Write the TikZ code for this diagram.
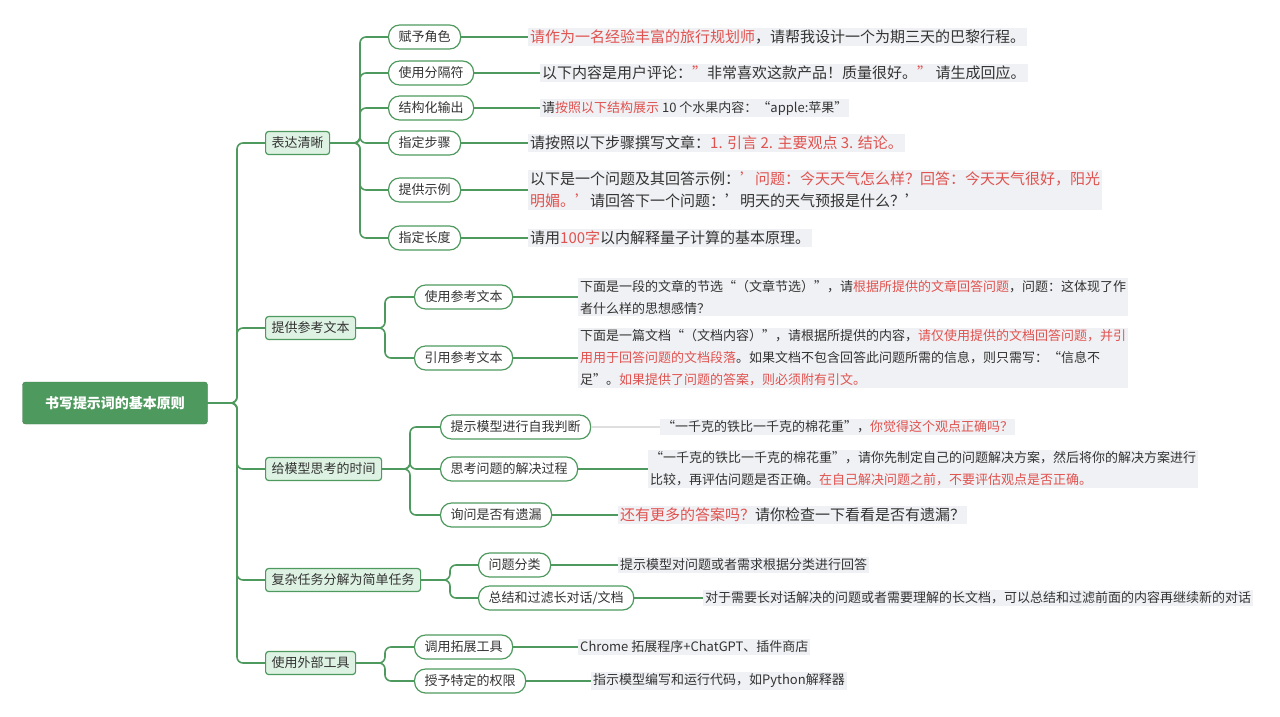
\documentclass[tikz,border=0pt]{standalone}
\usepackage{fontspec}
\setmainfont{Noto Sans CJK SC}
\usepackage{xcolor}
\definecolor{mgreen}{HTML}{4E9A5E}
\definecolor{lgreen}{HTML}{DDF2E2}
\definecolor{mred}{HTML}{E0524F}
\definecolor{tgray}{HTML}{F0F1F4}
\definecolor{ink}{HTML}{333333}
\newcommand{\hl}[1]{\textcolor{mred}{#1}}
\begin{document}
\begin{tikzpicture}[x=1pt,y=-1pt,
    link/.style={draw=mgreen,line width=1.6pt,rounded corners=6pt},
    root/.style={draw=mgreen!80!black,fill=mgreen,rounded corners=3pt,text=white,font=\fontsize{14}{16}\selectfont\bfseries,minimum width=185pt,minimum height=42pt},
    topic/.style={draw=mgreen,line width=1.2pt,fill=lgreen,rounded corners=3pt,text=ink,font=\fontsize{13}{14}\selectfont,inner xsep=6pt,minimum height=23pt,anchor=west},
    sub/.style={draw=mgreen,line width=1.2pt,fill=white,rounded corners=11pt,text=ink,font=\fontsize{13}{14}\selectfont,inner xsep=10pt,minimum height=24pt,anchor=west},
    big/.style={fill=tgray,text=ink,font=\fontsize{15}{22}\selectfont,anchor=west,inner sep=2pt,align=left},
    small/.style={fill=tgray,text=ink,font=\fontsize{13}{22}\selectfont,anchor=west,inner sep=2pt,align=left}]
\useasboundingbox (0,0) rectangle (1280,716);

\node[root] (R) at (115,403) {书写提示词的基本原则};

% first level
\node[topic] (T1) at (265,143) {表达清晰};
\node[topic] (T2) at (265,328) {提供参考文本};
\node[topic] (T3) at (265,469) {给模型思考的时间};
\node[topic] (T4) at (265,580) {复杂任务分解为简单任务};
\node[topic] (T5) at (265,663) {使用外部工具};
\foreach \t in {T1,T2,T3,T4,T5}
    \draw[link] (R.east) -- (237,403) |- (\t.west);

% 表达清晰
\node[sub] (A1) at (388,37) {赋予角色};
\node[sub] (A2) at (388,73) {使用分隔符};
\node[sub] (A3) at (388,108) {结构化输出};
\node[sub] (A4) at (388,143) {指定步骤};
\node[sub] (A5) at (388,190) {提供示例};
\node[sub] (A6) at (388,238) {指定长度};
\foreach \s in {A1,A2,A3,A4,A5,A6}
    \draw[link] (T1.east) -- (360,143) |- (\s.west);
\node[big] (a1) at (528,37) {\hl{请作为一名经验丰富的旅行规划师}，请帮我设计一个为期三天的巴黎行程。};
\node[big] (a2) at (540,73) {以下内容是用户评论：\hl{"}非常喜欢这款产品！质量很好。\hl{"} 请生成回应。};
\node[small] (a3) at (540,108) {请\hl{按照以下结构展示} 10 个水果内容：“apple:苹果”};
\node[big] (a4) at (528,143) {请按照以下步骤撰写文章：\hl{1. 引言 2. 主要观点 3. 结论。}};
\node[big] (a5) at (528,190) {以下是一个问题及其回答示例：\hl{\symbol{39}问题：今天天气怎么样？回答：今天天气很好，阳光}\\\hl{明媚。\symbol{39}}请回答下一个问题：\symbol{39}明天的天气预报是什么？\symbol{39}};
\node[big] (a6) at (528,238) {请用\hl{100字}以内解释量子计算的基本原理。};
\foreach \s/\t in {A1/a1,A2/a2,A3/a3,A4/a4,A5/a5,A6/a6}
    \draw[link] (\s.east) -- (\t.west);

% 提供参考文本
\node[sub] (B1) at (414,297) {使用参考文本};
\node[sub] (B2) at (414,358) {引用参考文本};
\foreach \s in {B1,B2}
    \draw[link] (T2.east) -- (385,328) |- (\s.west);
\node[small] (b1) at (578,297) {下面是一段的文章的节选“（文章节选）”，请\hl{根据所提供的文章回答问题}，问题：这体现了作\\者什么样的思想感情？};
\node[small] (b2) at (578,358) {下面是一篇文档“（文档内容）”，请根据所提供的内容，\hl{请仅使用提供的文档回答问题，并引}\\\hl{用用于回答问题的文档段落}。如果文档不包含回答此问题所需的信息，则只需写：“信息不\\足”。\hl{如果提供了问题的答案，则必须附有引文。}};
\foreach \s/\t in {B1/b1,B2/b2}
    \draw[link] (\s.east) -- (\t.west);

% 给模型思考的时间
\node[sub] (C1) at (440,427) {提示模型进行自我判断};
\node[sub] (C2) at (440,469) {思考问题的解决过程};
\node[sub] (C3) at (440,515) {询问是否有遗漏};
\foreach \s in {C1,C2,C3}
    \draw[link] (T3.east) -- (410,469) |- (\s.west);
\node[small] (c1) at (660,427) {“一千克的铁比一千克的棉花重”，\hl{你觉得这个观点正确吗？}};
\node[small] (c2) at (648,469) {“一千克的铁比一千克的棉花重”，请你先制定自己的问题解决方案，然后将你的解决方案进行\\比较，再评估问题是否正确。\hl{在自己解决问题之前，不要评估观点是否正确。}};
\node[big] (c3) at (618,515) {\hl{还有更多的答案吗？}请你检查一下看看是否有遗漏？};
\draw[link,draw=gray!25] (C1.east) -- (c1.west);
\foreach \s/\t in {C2/c2,C3/c3}
    \draw[link] (\s.east) -- (\t.west);

% 复杂任务分解为简单任务
\node[sub] (D1) at (478,565) {问题分类};
\node[sub] (D2) at (478,598) {总结和过滤长对话/文档};
\foreach \s in {D1,D2}
    \draw[link] (T4.east) -- (450,580) |- (\s.west);
\node[small] (d1) at (618,565) {提示模型对问题或者需求根据分类进行回答};
\node[small] (d2) at (703,598) {对于需要长对话解决的问题或者需要理解的长文档，可以总结和过滤前面的内容再继续新的对话};
\foreach \s/\t in {D1/d1,D2/d2}
    \draw[link] (\s.east) -- (\t.west);

% 使用外部工具
\node[sub] (E1) at (414,647) {调用拓展工具};
\node[sub] (E2) at (414,681) {授予特定的权限};
\foreach \s in {E1,E2}
    \draw[link] (T5.east) -- (385,663) |- (\s.west);
\node[small] (e1) at (578,647) {Chrome 拓展程序+ChatGPT、插件商店};
\node[small] (e2) at (591,681) {指示模型编写和运行代码，如Python解释器};
\foreach \s/\t in {E1/e1,E2/e2}
    \draw[link] (\s.east) -- (\t.west);
\end{tikzpicture}
\end{document}
